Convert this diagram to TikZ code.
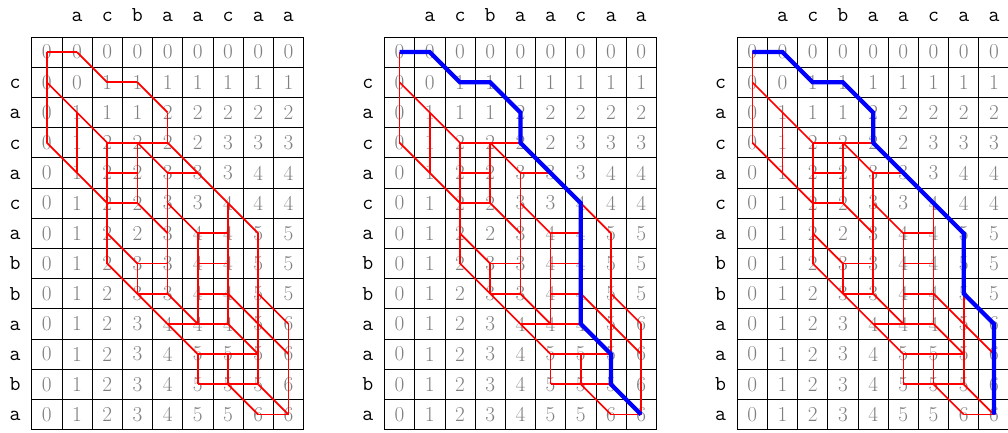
\documentclass[tikz,border=0pt]{standalone}
\usepackage{fontspec}
\begin{document}
\begin{tikzpicture}[
  cell/.style={draw=black, line width=0.7pt, text=gray, minimum size=1cm,
               inner sep=0pt, outer sep=0pt,
               font=\fontsize{20}{24}\selectfont},
  lab/.style={anchor=base, inner sep=0pt,
              font=\fontsize{20}{24}\selectfont\ttfamily},
  redline/.style={red, line width=1.6pt},
  bluepath/.style={blue, line width=4pt}
]
\useasboundingbox (-1.55,-12.58) rectangle (31.825,1.725);

% three copies of the LCS table, each with every optimal move in red
\foreach \g/\ox in {1/0, 2/11.68, 3/23.36} {
  \begin{scope}[xshift=\ox cm]
    % table cells with their LCS lengths
    \foreach \i/\row in {
        0/{0,0,0,0,0,0,0,0,0},
        1/{0,0,1,1,1,1,1,1,1},
        2/{0,1,1,1,2,2,2,2,2},
        3/{0,1,2,2,2,2,3,3,3},
        4/{0,1,2,2,3,3,3,4,4},
        5/{0,1,2,2,3,3,4,4,4},
        6/{0,1,2,2,3,4,4,5,5},
        7/{0,1,2,3,3,4,4,5,5},
        8/{0,1,2,3,3,4,4,5,5},
        9/{0,1,2,3,4,4,4,5,6},
        10/{0,1,2,3,4,5,5,5,6},
        11/{0,1,2,3,4,5,5,5,6},
        12/{0,1,2,3,4,5,5,6,6}} {
      \foreach \v [count=\j from 0] in \row
        \node[cell] (c\g-\i-\j) at (\j,-\i) {\v};
    }
    % the two strings
    \foreach \ch [count=\j] in {a,c,b,a,a,c,a,a}
      \node[lab] (t\g-\j) at (\j,1.0) {\ch};
    \foreach \ch [count=\i] in {c,a,c,a,c,a,b,b,a,a,b,a}
      \node[lab] (s\g-\i) at (-1.05,{-\i-0.21}) {\ch};
    % moves that lie on some longest path
    \foreach \ia/\ja/\ib/\jb in {
        0/0/0/1, 1/2/1/3, 3/2/3/4, 4/2/4/3, 5/2/5/3, 4/4/4/5, 6/5/6/6,
        7/3/7/4, 8/3/8/4, 7/5/7/6, 8/5/8/6, 9/4/9/6, 10/5/10/7,
        11/5/11/7, 12/7/12/8,
        0/0/3/0, 2/1/4/1, 2/4/3/4, 3/2/7/2, 3/3/5/3, 4/4/8/4, 6/5/9/5,
        5/6/9/6, 6/7/11/7, 7/3/8/3, 9/8/12/8, 10/5/11/5, 10/6/11/6,
        0/1/1/2, 1/3/2/4, 1/0/3/2, 3/0/5/2, 3/3/4/4, 3/4/6/7, 5/3/6/4,
        5/4/6/5, 6/2/7/3, 7/2/10/5, 8/4/9/5, 8/6/10/8, 9/6/10/7,
        8/7/9/8, 11/6/12/7, 11/7/12/8}
      \draw[redline] (c\g-\ia-\ja.center) -- (c\g-\ib-\jb.center);
  \end{scope}
}

% two chosen longest paths
\draw[bluepath] (c2-0-0.center) -- (c2-0-1.center) -- (c2-1-2.center)
  -- (c2-1-3.center) -- (c2-2-4.center) -- (c2-3-4.center)
  -- (c2-5-6.center) -- (c2-9-6.center) -- (c2-10-7.center)
  -- (c2-11-7.center) -- (c2-12-8.center);
\draw[bluepath] (c3-0-0.center) -- (c3-0-1.center) -- (c3-1-2.center)
  -- (c3-1-3.center) -- (c3-2-4.center) -- (c3-3-4.center)
  -- (c3-6-7.center) -- (c3-8-7.center) -- (c3-9-8.center)
  -- (c3-12-8.center);
\end{tikzpicture}
\end{document}
